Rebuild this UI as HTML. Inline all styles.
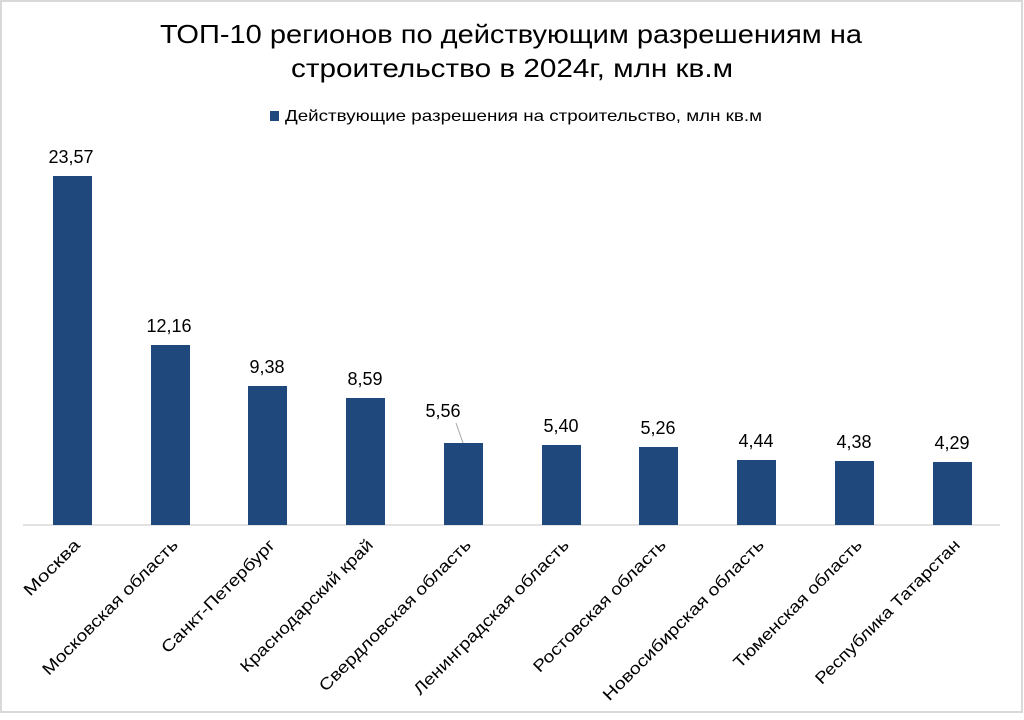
<!DOCTYPE html>
<html><head><meta charset="utf-8"><style>
body{margin:0;background:#fff;}
</style></head><body>
<svg width="1024" height="715" xmlns="http://www.w3.org/2000/svg" font-family="Liberation Sans, Arial, sans-serif">
<rect x="1" y="1" width="1021" height="711" fill="#fff" stroke="#d9d9d9" stroke-width="2"/>
<text x="160" y="43" font-size="26" textLength="702" lengthAdjust="spacingAndGlyphs" fill="#000">ТОП-10 регионов по действующим разрешениям на</text>
<text x="291" y="77" font-size="26" textLength="442" lengthAdjust="spacingAndGlyphs" fill="#000">строительство в 2024г, млн кв.м</text>
<rect x="270" y="111" width="9" height="10" fill="#1f497d"/>
<text x="285" y="121" font-size="16" textLength="477" lengthAdjust="spacingAndGlyphs" fill="#000">Действующие разрешения на строительство, млн кв.м</text>
<line x1="23" y1="525" x2="1000" y2="525" stroke="#d9d9d9" stroke-width="1.5"/>
<g fill="#1f497d">
<rect x="53" y="176" width="39" height="349"/>
<rect x="151" y="345" width="39" height="180"/>
<rect x="248" y="386" width="39" height="139"/>
<rect x="346" y="398" width="39" height="127"/>
<rect x="444" y="443" width="39" height="82"/>
<rect x="542" y="445" width="39" height="80"/>
<rect x="639" y="447" width="39" height="78"/>
<rect x="737" y="460" width="39" height="65"/>
<rect x="835" y="461" width="39" height="64"/>
<rect x="933" y="462" width="39" height="63"/>
</g>
<g font-size="18" text-anchor="middle" fill="#000">
<text x="71" y="163">23,57</text>
<text x="169" y="332">12,16</text>
<text x="267" y="373">9,38</text>
<text x="365" y="385">8,59</text>
<text x="443" y="417">5,56</text>
<text x="561" y="432">5,40</text>
<text x="658" y="434">5,26</text>
<text x="756" y="447">4,44</text>
<text x="854" y="448">4,38</text>
<text x="952" y="449">4,29</text>
</g>
<line x1="456" y1="423" x2="463" y2="443" stroke="#a6a6a6" stroke-width="1"/>
<g font-size="16.5" text-anchor="end" fill="#000">
<text transform="translate(81,546) rotate(-45)" textLength="72" lengthAdjust="spacingAndGlyphs">Москва</text>
<text transform="translate(179,546) rotate(-45)" textLength="184" lengthAdjust="spacingAndGlyphs">Московская область</text>
<text transform="translate(276,546) rotate(-45)" textLength="153" lengthAdjust="spacingAndGlyphs">Санкт-Петербург</text>
<text transform="translate(374,546) rotate(-45)" textLength="180" lengthAdjust="spacingAndGlyphs">Краснодарский край</text>
<text transform="translate(472,546) rotate(-45)" textLength="207" lengthAdjust="spacingAndGlyphs">Свердловская область</text>
<text transform="translate(570,546) rotate(-45)" textLength="212" lengthAdjust="spacingAndGlyphs">Ленинградская область</text>
<text transform="translate(667,546) rotate(-45)" textLength="180" lengthAdjust="spacingAndGlyphs">Ростовская область</text>
<text transform="translate(765,546) rotate(-45)" textLength="220" lengthAdjust="spacingAndGlyphs">Новосибирская область</text>
<text transform="translate(863,546) rotate(-45)" textLength="174" lengthAdjust="spacingAndGlyphs">Тюменская область</text>
<text transform="translate(961,546) rotate(-45)" textLength="197" lengthAdjust="spacingAndGlyphs">Республика Татарстан</text>
</g>
</svg>
</body></html>
